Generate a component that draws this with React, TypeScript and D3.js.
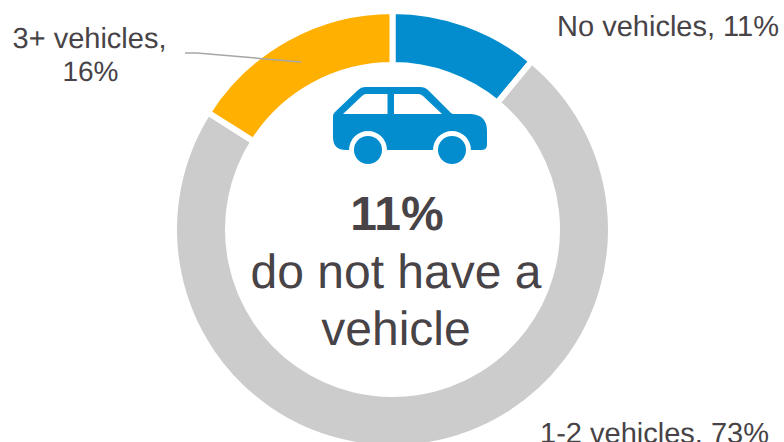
import React from "react";
import * as d3 from "d3";

const categories = ["No vehicles", "1-2 vehicles", "3+ vehicles"];
const shares = [11, 73, 16];
const colors = ["#038dcf", "#cccccc", "#ffb000"];

const W = 784, H = 442, CX = 392.5, CY = 229.5, RO = 218.5, RI = 164.5;
const FONT = "'Liberation Sans', Arial, sans-serif";
const INK = "#474347";

const pie = d3.pie<number>().sort(null).value((d) => d);
const arc = d3.arc<d3.PieArcDatum<number>>().innerRadius(RI).outerRadius(RO);

const CAR = "M333 116 Q333 114 335 112 L358 90 Q361 87 365 87 L420 87 Q425 87 428 90 L451 113 Q452 114 454 114 L471 114 Q487 115 487 131 L487 145 Q487 150 481 150 L471 150 A19 19 0 0 0 433 150 L387 150 A19 19 0 0 0 349 150 L346 150 Q333 150 333 137 Z M343 114 L387.5 114 L387.5 94 L366 94 Q364 94 362 96 Z M394 114 L442 114 L423 96 Q421 94 418 94 L394 94 Z";

export default function App() {
  return (
    <svg width={W} height={H} style={{ position: "fixed", left: 0, top: 0 }} fontFamily={FONT} textRendering="geometricPrecision">
      <rect width={W} height={H} fill="#fff" />
      {pie(shares).map((s, i) => (
        <path key={categories[i]} d={arc(s) ?? ""} transform={`translate(${CX},${CY})`} fill={colors[i]} stroke="#fff" strokeWidth={6} />
      ))}
      <path d="M185 53 L197 53 L301 62" fill="none" stroke="#a6a6a6" strokeWidth={1.5} />
      <path d={CAR} fill="#038dcf" fillRule="evenodd" />
      <circle cx={368} cy={150} r={14} fill="#038dcf" />
      <circle cx={452} cy={150} r={14} fill="#038dcf" />
      <g fill={INK} fontSize={29} textAnchor="middle">
        <text x={89.5} y={48}>3+ vehicles,</text>
        <text x={90.5} y={81} fontSize={28}>16%</text>
        <text x={668} y={36}>No vehicles, 11%</text>
        <text x={654.5} y={442.5}>1-2 vehicles, 73%</text>
      </g>
      <g fill={INK} textAnchor="middle" fontSize={48}>
        <text x={397} y={230} fontWeight={700}>11%</text>
        <text x={396} y={288}>do not have a</text>
        <text x={396} y={345}>vehicle</text>
      </g>
    </svg>
  );
}
